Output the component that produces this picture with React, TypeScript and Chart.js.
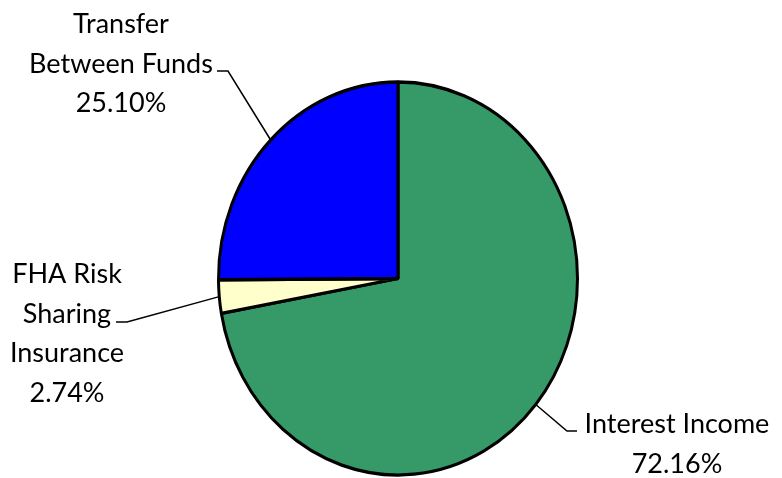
import React, { useEffect, useRef } from "react";
import { Chart, registerables } from "chart.js";

Chart.register(...registerables);

const categories = ["Interest Income", "FHA Risk Sharing Insurance", "Transfer Between Funds"];
const labelLines = [["Interest Income"], ["FHA Risk", "Sharing", "Insurance"], ["Transfer", "Between Funds"]];
const values = [72.16, 2.74, 25.1];
const colors = ["#359a68", "#ffffcc", "#0000ff"];

// label layout: center x, first baseline y, elbow point, horizontal end
const labelLayout = [
  { cx: 677, y: 433, elbow: [567, 431], end: [577, 431] },
  { cx: 67, y: 283, elbow: [127, 322], end: [116, 322] },
  { cx: 121, y: 33, elbow: [228, 71], end: [217, 71] },
];

const SY = 196.5 / 179.5;
const FONT = '27px Lato, "Open Sans", sans-serif';

export default function App() {
  const ref = useRef<HTMLCanvasElement | null>(null);
  useEffect(() => {
    if (!ref.current) return;
    const stretch = {
      id: "stretch",
      beforeDatasetsDraw(chart: any) {
        const arc = chart.getDatasetMeta(0).data[0];
        const ctx = chart.ctx;
        ctx.save();
        ctx.translate(arc.x, arc.y);
        ctx.scale(1, SY);
        ctx.translate(-arc.x, -arc.y);
      },
      afterDatasetsDraw(chart: any) {
        chart.ctx.restore();
      },
    };
    const labelsPlugin = {
      id: "labelsPlugin",
      afterDraw(chart: any) {
        const ctx = chart.ctx;
        const meta = chart.getDatasetMeta(0);
        ctx.save();
        meta.data.forEach((arc: any, i: number) => {
          const mid = (arc.startAngle + arc.endAngle) / 2;
          const px = arc.x + Math.cos(mid) * arc.outerRadius;
          const py = arc.y + Math.sin(mid) * arc.outerRadius * SY;
          const L = labelLayout[i];
          ctx.strokeStyle = "#000";
          ctx.lineWidth = 1.5;
          ctx.beginPath();
          ctx.moveTo(px, py);
          ctx.lineTo(L.elbow[0], L.elbow[1]);
          ctx.lineTo(L.end[0], L.end[1]);
          ctx.stroke();
          ctx.fillStyle = "#000";
          ctx.font = FONT;
          ctx.textAlign = "center";
          ctx.textBaseline = "alphabetic";
          const lines = [...labelLines[i], values[i].toFixed(2) + "%"];
          lines.forEach((t, j) => ctx.fillText(t, L.cx, L.y + j * 39.7));
        });
        ctx.restore();
      },
    };
    const chart = new Chart(ref.current, {
      type: "pie",
      data: {
        labels: categories,
        datasets: [
          {
            data: values,
            backgroundColor: colors,
            borderColor: "#000",
            borderWidth: 3,
          },
        ],
      },
      options: {
        animation: false,
        responsive: false,
        events: [],
        radius: 179.5,
        layout: { padding: { left: 14, right: 0, top: 79, bottom: 0 } },
        plugins: { legend: { display: false }, tooltip: { enabled: false } },
      } as any,
      plugins: [stretch, labelsPlugin],
    });
    return () => chart.destroy();
  }, []);
  return (
    <div style={{ position: "fixed", left: 0, top: 0, width: 782, height: 478, background: "#fff" }}>
      <canvas ref={ref} width={782} height={478} style={{ width: 782, height: 478 }} />
    </div>
  );
}
